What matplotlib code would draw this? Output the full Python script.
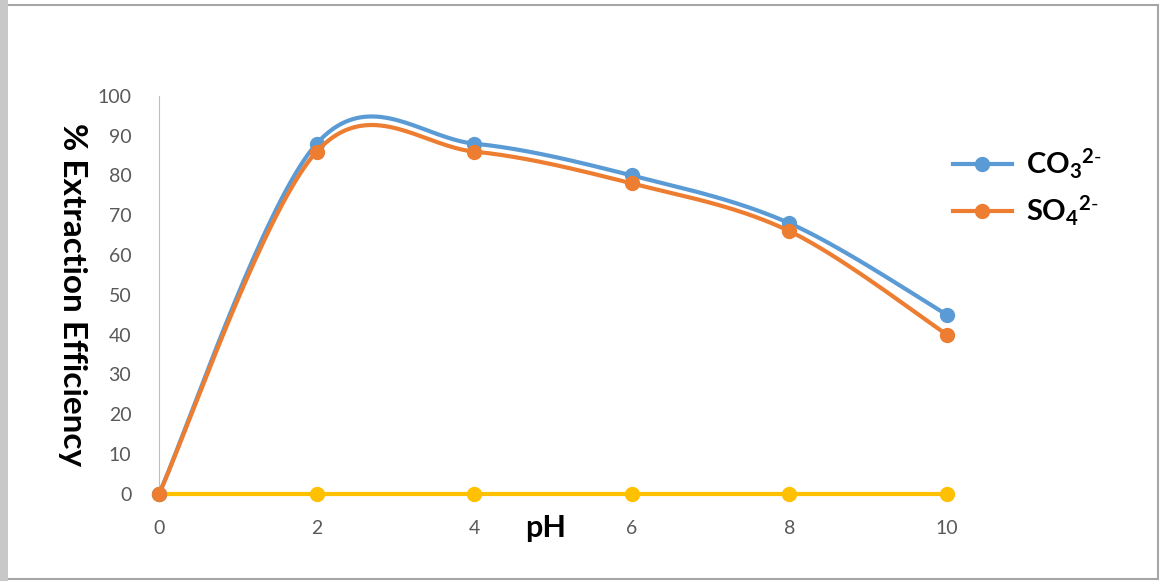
import numpy as np
import matplotlib
matplotlib.use("Agg")
import matplotlib.pyplot as plt
from matplotlib.patches import Rectangle

# data
ph = [0, 2, 4, 6, 8, 10]
co3 = [0, 88, 88, 80, 68, 45]
so4 = [0, 86, 86, 78, 66, 40]
blank = [0, 0, 0, 0, 0, 0]
yticks = list(range(0, 101, 10))
xticks = [0, 2, 4, 6, 8, 10]

plt.rcParams['font.family'] = ['Lato', 'DejaVu Sans']
plt.rcParams['mathtext.fontset'] = 'custom'
plt.rcParams['mathtext.rm'] = 'Lato'
plt.rcParams['mathtext.bf'] = 'Lato:bold'


def smooth(x, y, n=40):
	# excel style smoothed line: cubic bezier, catmull-rom control points
	x = np.asarray(x, float)
	y = np.asarray(y, float)
	px = np.concatenate([[x[0]], x, [x[-1]]])
	py = np.concatenate([[y[0]], y, [y[-1]]])
	xs, ys = [], []
	t = np.linspace(0, 1, n)
	for i in range(1, len(px) - 2):
		p0 = np.array([px[i], py[i]])
		p3 = np.array([px[i + 1], py[i + 1]])
		p1 = p0 + (np.array([px[i + 1], py[i + 1]]) - np.array([px[i - 1], py[i - 1]])) / 6
		p2 = p3 - (np.array([px[i + 2], py[i + 2]]) - np.array([px[i], py[i]])) / 6
		b = ((1 - t) ** 3)[:, None] * p0 + (3 * t * (1 - t) ** 2)[:, None] * p1 \
			+ (3 * t ** 2 * (1 - t))[:, None] * p2 + (t ** 3)[:, None] * p3
		xs.extend(b[:, 0])
		ys.extend(b[:, 1])
	return xs, ys


fig = plt.figure(figsize=(11.61, 5.81), dpi=100)
ax = fig.add_axes([0.137, 0.150, 0.6787, 0.685])

blue = '#5B9BD5'
orange = '#ED7D31'
yellow = '#FFC000'
lw = 3
ms = 10

sx, sy = smooth(ph, blank)
ax.plot(sx, sy, color=yellow, lw=lw, clip_on=False, zorder=3)
ax.plot(ph, blank, 'o', color=yellow, ms=ms, clip_on=False, zorder=3)

sx, sy = smooth(ph, co3)
ax.plot(sx, sy, color=blue, lw=lw, clip_on=False, zorder=4)
ax.plot(ph, co3, 'o', color=blue, ms=ms, clip_on=False, zorder=4)

sx, sy = smooth(ph, so4)
ax.plot(sx, sy, color=orange, lw=lw, clip_on=False, zorder=5)
ax.plot(ph, so4, 'o', color=orange, ms=ms, clip_on=False, zorder=5)

# legend handles (only two series shown)
h1, = ax.plot([], [], '-o', color=blue, lw=lw, ms=ms)
h2, = ax.plot([], [], '-o', color=orange, lw=lw, ms=ms)
fig.legend([h1, h2], [r'$\mathbf{CO_3{}^{2\text{-}}}$', r'$\mathbf{SO_4{}^{2\text{-}}}$'],
	loc='upper left', bbox_to_anchor=(927 / 1161, 1 - 120 / 581),
	frameon=False, fontsize=21, handlelength=2.0, labelspacing=0.45,
	handletextpad=0.5)

ax.set_xlim(0, 10)
ax.set_ylim(0, 100)
ax.set_xticks(xticks)
ax.set_yticks(yticks)
ax.tick_params(length=0, labelsize=14, colors='#595959', pad=19)
ax.tick_params(axis='y', pad=20)
for s in ['top', 'right']:
	ax.spines[s].set_visible(False)
ax.spines['left'].set_color('#BFBFBF')
ax.spines['bottom'].set_color('#BFBFBF')

ax.set_ylabel('% Extraction Efficiency', fontsize=24, fontweight='bold',
	rotation=-90, labelpad=10, va='center')
ax.yaxis.set_label_coords(-0.11, 0.5)
ax.text(0.49, -0.085, 'pH', transform=ax.transAxes, fontsize=22,
	fontweight='bold', ha='center', va='center')

# outer frame like the screenshot
fig.patches.append(Rectangle((0.004, 0.004), 0.993, 0.988, transform=fig.transFigure,
	fill=False, edgecolor='#A6A6A6', lw=1.5))
fig.patches.append(Rectangle((0.0, 0.0), 0.007, 1.0, transform=fig.transFigure,
	color='#C8C8C8', lw=0))

fig.savefig('out.png', dpi=100)
